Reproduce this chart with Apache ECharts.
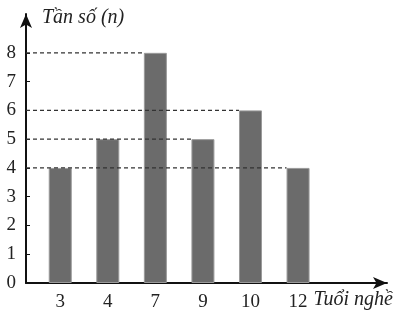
<!DOCTYPE html>
<html><head><meta charset="utf-8">
<script src="https://cdn.jsdelivr.net/npm/echarts@6/dist/echarts.min.js"></script>
<style>html,body{margin:0;padding:0;background:#fff}#c{width:400px;height:318px}</style>
</head><body><div id="c"></div>
<script>
const categories = ['3', '4', '7', '9', '10', '12'];
const frequencies = [4, 5, 8, 5, 6, 4];
const yTicks = [0, 1, 2, 3, 4, 5, 6, 7, 8];
const xTitle = 'Tuổi nghề';
const yTitle = 'Tần số (n)';

const BAR_W = 23;
const serif = 'Liberation Serif';

// guide lines: for each distinct value, dashed line from y-axis to the farthest bar with that value
const guides = [];
frequencies.forEach((v, i) => {
  const last = frequencies.lastIndexOf(v);
  if (last === i) guides.push([i, v]);
});

const xMin = -0.72, xMax = 6.87;
const chart = echarts.init(document.getElementById('c'));
chart.setOption({
  animation: false,
  grid: { left: 26, right: 13, top: 14, bottom: 35 },
  xAxis: {
    type: 'value', min: xMin, max: xMax,
    splitLine: { show: false },
    axisLine: { show: true, onZero: false, lineStyle: { color: '#111', width: 2 }, symbol: ['none', 'arrow'], symbolSize: [9, 14] },
    axisTick: { show: false },
    axisLabel: {
      customValues: categories.map((c, i) => i),
      formatter: v => categories[Math.round(v)],
      fontFamily: serif, fontSize: 19, color: '#222', margin: 10
    },
    name: xTitle, nameLocation: 'end', nameGap: 5,
    nameTextStyle: { fontFamily: serif, fontStyle: 'italic', fontSize: 20, color: '#222', align: 'right', verticalAlign: 'top', padding: [7, 0, 0, 0] }
  },
  yAxis: {
    type: 'value', min: 0, max: 9.35,
    splitLine: { show: false },
    axisLine: { show: true, onZero: false, lineStyle: { color: '#111', width: 2 }, symbol: ['none', 'arrow'], symbolSize: [9, 14] },
    axisTick: { show: true, inside: true, length: 4, customValues: yTicks, lineStyle: { color: '#111' } },
    axisLabel: { customValues: yTicks, fontFamily: serif, fontSize: 19, color: '#222', margin: 10 },
    name: yTitle, nameLocation: 'end', nameGap: -4,
    nameTextStyle: { fontFamily: serif, fontStyle: 'italic', fontSize: 20, color: '#222', align: 'left', verticalAlign: 'middle', padding: [0, 0, 0, 16] }
  },
  series: [
    {
      type: 'bar', barWidth: BAR_W,
      data: frequencies.map((v, i) => [i, v]),
      itemStyle: { color: '#6b6b6b', borderColor: '#9a9a9a', borderWidth: 1 },
      z: 2
    },
    {
      type: 'custom', z: 5, silent: true,
      data: guides,
      renderItem: (params, api) => {
        const i = api.value(0), v = api.value(1);
        const s = api.coord([xMin, v]);
        const e = api.coord([i, v]);
        return {
          type: 'line',
          shape: { x1: s[0], y1: s[1], x2: e[0] - BAR_W / 2, y2: e[1] },
          style: { stroke: '#333', lineWidth: 1.3, lineDash: [4, 3] }
        };
      }
    }
  ]
});
</script></body></html>
